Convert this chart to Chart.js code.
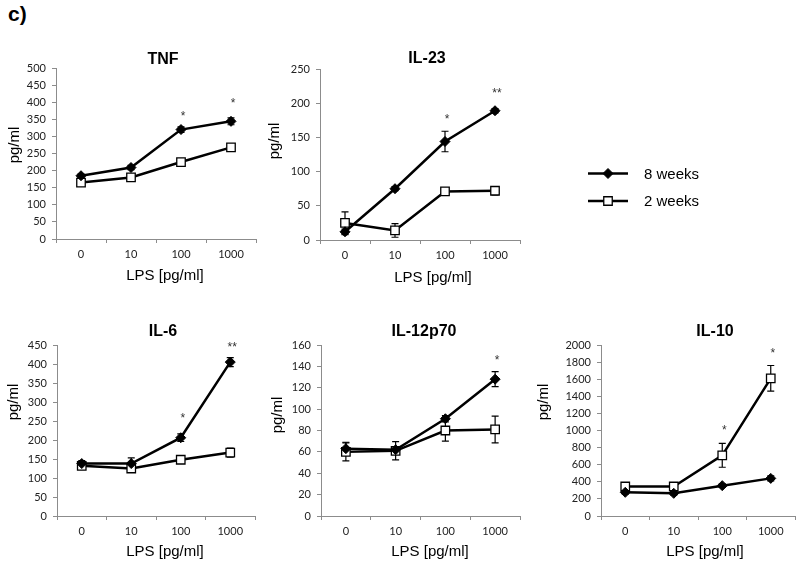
<!DOCTYPE html>
<html><head><meta charset="utf-8">
<script src="https://cdn.jsdelivr.net/npm/chart.js@4.4.1/dist/chart.umd.min.js"></script>
<style>
html,body{margin:0;padding:0;background:#fff;width:800px;height:563px;overflow:hidden;position:relative}
canvas{position:absolute}
#tag{position:absolute;left:8px;top:3px;font:bold 21px "Liberation Sans",Arial,sans-serif;color:#000;line-height:1}
</style></head><body>
<div id="tag">c)</div>
<script>
// ---------- data ----------
const categories = ['0', '10', '100', '1000'];
const seriesNames = ['8 weeks', '2 weeks'];
const axisTitleX = 'LPS [pg/ml]';
const axisTitleY = 'pg/ml';

const tnf8 = [185, 209, 320, 344];
const tnf8Err = [5, 6, 8, 10];
const tnf2 = [165, 180, 225, 268];
const tnf2Err = [4, 4, 5, 5];
const tnfStars = ['', '', '*', '*'];
const tnfStarAt = [null, null, 367, 404];

const il23w8 = [12, 75, 144, 189];
const il23w8Err = [4, 3, 15, 3];
const il23w2 = [25, 14, 71, 72];
const il23w2Err = [16, 10, 3, 6];
const il23Stars = ['', '', '*', '**'];
const il23StarAt = [null, null, 180, 219];

const il6w8 = [138, 138, 206, 405];
const il6w8Err = [8, 15, 10, 12];
const il6w2 = [132, 125, 148, 167];
const il6w2Err = [8, 5, 5, 12];
const il6Stars = ['', '', '*', '**'];
const il6StarAt = [null, null, 264, 452];

const il12w8 = [63, 62, 91, 128];
const il12w8Err = [6, 3, 3, 7];
const il12w2 = [60, 61, 80, 81];
const il12w2Err = [8.5, 8.5, 10, 12.5];
const il12Stars = ['', '', '', '*'];
const il12StarAt = [null, null, null, 148];

const il10w8 = [277, 265, 355, 440];
const il10w8Err = [20, 20, 20, 30];
const il10w2 = [345, 345, 710, 1610];
const il10w2Err = [20, 20, 140, 150];
const il10Stars = ['', '', '*', '*'];
const il10StarAt = [null, null, 1033, 1930];

const yMax = {TNF: 500, 'IL-23': 250, 'IL-6': 450, 'IL-12p70': 160, 'IL-10': 2000};
const yStep = {TNF: 50, 'IL-23': 50, 'IL-6': 50, 'IL-12p70': 20, 'IL-10': 200};

// ---------- layout (absolute page coordinates) ----------
const panels = [
  {name: 'TNF', s8: tnf8, e8: tnf8Err, s2: tnf2, e2: tnf2Err, stars: tnfStars, starAt: tnfStarAt,
   area: {l: 56, r: 256, t: 68, b: 239}, title: [163, 60], yt: [15, 145], xt: [165, 276]},
  {name: 'IL-23', s8: il23w8, e8: il23w8Err, s2: il23w2, e2: il23w2Err, stars: il23Stars, starAt: il23StarAt,
   area: {l: 320, r: 520, t: 69, b: 240}, title: [427, 59], yt: [275, 141], xt: [433, 278]},
  {name: 'IL-6', s8: il6w8, e8: il6w8Err, s2: il6w2, e2: il6w2Err, stars: il6Stars, starAt: il6StarAt,
   area: {l: 57, r: 255, t: 345, b: 516}, title: [163, 332], yt: [14, 402], xt: [165, 552]},
  {name: 'IL-12p70', s8: il12w8, e8: il12w8Err, s2: il12w2, e2: il12w2Err, stars: il12Stars, starAt: il12StarAt,
   area: {l: 321, r: 520, t: 345, b: 516}, title: [424, 332], yt: [278, 415], xt: [430, 552]},
  {name: 'IL-10', s8: il10w8, e8: il10w8Err, s2: il10w2, e2: il10w2Err, stars: il10Stars, starAt: il10StarAt,
   area: {l: 601, r: 795, t: 345, b: 516}, title: [715, 332], yt: [544, 402], xt: [705, 552]}
];

const TICK_FONT = {family: 'Lato, "Liberation Sans", sans-serif', size: 11};
const AXIS_COLOR = '#8c8c8c';
const Y_W = 40, X_H = 30;

const style8 = {pointStyle: 'rectRot', pointRadius: 5, backgroundColor: '#000', borderColor: '#000', pointBorderWidth: 1};
const style2 = {pointStyle: 'rect', pointRadius: 6, backgroundColor: '#fff', borderColor: '#000', pointBorderWidth: 1.3};

const decoPlugin = {
  id: 'panelDeco',
  beforeDatasetsDraw(chart, args, o) {
    const ctx = chart.ctx, ys = chart.scales.y;
    chart.data.datasets.forEach((ds, di) => {
      if (!ds.errors) return;
      const meta = chart.getDatasetMeta(di);
      ctx.save();
      ctx.strokeStyle = '#000';
      ctx.lineWidth = 1.2;
      meta.data.forEach((pt, i) => {
        const v = ds.data[i], e = ds.errors[i];
        if (!e) return;
        const x = pt.x, y1 = ys.getPixelForValue(v + e), y0 = ys.getPixelForValue(v - e);
        ctx.beginPath();
        ctx.moveTo(x, y1); ctx.lineTo(x, y0);
        ctx.moveTo(x - 3.5, y1); ctx.lineTo(x + 3.5, y1);
        ctx.moveTo(x - 3.5, y0); ctx.lineTo(x + 3.5, y0);
        ctx.stroke();
      });
      ctx.restore();
    });
  },
  afterDraw(chart, args, o) {
    const ctx = chart.ctx, xs = chart.scales.x, ys = chart.scales.y;
    ctx.save();
    // significance stars
    ctx.fillStyle = '#333';
    ctx.font = '12px "Liberation Sans", Arial, sans-serif';
    ctx.textAlign = 'center';
    ctx.textBaseline = 'alphabetic';
    o.stars.forEach((s, i) => {
      if (!s) return;
      const m = ctx.measureText(s);
      const px = xs.getPixelForValue(i) + 2;
      const py = ys.getPixelForValue(o.starAt[i]);
      ctx.fillText(s, px, py + (m.actualBoundingBoxAscent - m.actualBoundingBoxDescent) / 2);
    });
    // titles
    ctx.fillStyle = '#000';
    ctx.textBaseline = 'middle';
    ctx.font = 'bold 16px "Liberation Sans", Arial, sans-serif';
    ctx.fillText(o.title, o.titlePos[0] - o.offX, o.titlePos[1] - o.offY);
    ctx.font = '15px "Liberation Sans", Arial, sans-serif';
    ctx.fillText(o.xTitle, o.xtPos[0] - o.offX, o.xtPos[1] - o.offY);
    ctx.translate(o.ytPos[0] - o.offX, o.ytPos[1] - o.offY);
    ctx.rotate(-Math.PI / 2);
    ctx.fillText(o.yTitle, 0, 0);
    ctx.restore();
  }
};

panels.forEach((p, idx) => {
  const a = p.area;
  const L = a.l - 72, T = a.t - 45;
  const W = a.r - L + 8, H = a.b - T + 48;
  const cv = document.createElement('canvas');
  cv.width = W; cv.height = H;
  cv.style.left = L + 'px'; cv.style.top = T + 'px';
  cv.style.width = W + 'px'; cv.style.height = H + 'px';
  document.body.appendChild(cv);
  new Chart(cv, {
    type: 'line',
    data: {
      labels: categories,
      datasets: [
        Object.assign({label: seriesNames[0], data: p.s8, errors: p.e8, borderWidth: 2.5, fill: false, tension: 0}, style8),
        Object.assign({label: seriesNames[1], data: p.s2, errors: p.e2, borderWidth: 2.5, fill: false, tension: 0}, style2)
      ]
    },
    options: {
      responsive: false,
      animation: false,
      devicePixelRatio: 1,
      layout: {padding: {left: a.l - L - Y_W, right: L + W - a.r, top: a.t - T, bottom: H - (a.b - T) - X_H}},
      plugins: {
        legend: {display: false},
        tooltip: {enabled: false},
        panelDeco: {
          stars: p.stars, starAt: p.starAt,
          title: p.name, titlePos: p.title,
          xTitle: axisTitleX, xtPos: p.xt,
          yTitle: axisTitleY, ytPos: p.yt,
          offX: L, offY: T
        }
      },
      scales: {
        x: {
          type: 'category',
          offset: true,
          grid: {offset: true, drawOnChartArea: false, drawTicks: true, tickLength: 4, color: AXIS_COLOR},
          border: {display: true, color: AXIS_COLOR, width: 1},
          ticks: {font: TICK_FONT, color: '#222', padding: 5, maxRotation: 0},
          afterFit(s) { s.height = X_H; }
        },
        y: {
          min: 0, max: yMax[p.name],
          grid: {drawOnChartArea: false, drawTicks: true, tickLength: 4, color: AXIS_COLOR},
          border: {display: true, color: AXIS_COLOR, width: 1},
          ticks: {stepSize: yStep[p.name], font: TICK_FONT, color: '#222', padding: 6,
                  callback: (v) => String(v)},
          afterFit(s) { s.width = Y_W; }
        }
      }
    },
    plugins: [decoPlugin]
  });
});

// ---------- legend ----------
const legendPlugin = {
  id: 'sideLegend',
  afterDraw(chart, args, o) {
    const ctx = chart.ctx;
    chart.data.datasets.forEach((ds, i) => {
      const y = o.y0 + i * o.gap - o.offY;
      const x0 = o.x0 - o.offX, x1 = o.x1 - o.offX;
      ctx.save();
      ctx.strokeStyle = ds.borderColor;
      ctx.lineWidth = ds.borderWidth;
      ctx.beginPath(); ctx.moveTo(x0, y); ctx.lineTo(x1, y); ctx.stroke();
      ctx.fillStyle = ds.backgroundColor;
      ctx.lineWidth = ds.pointBorderWidth;
      const ps = {pointStyle: ds.pointStyle, radius: ds.pointRadius, borderWidth: ds.pointBorderWidth, rotation: 0};
      if (Chart.helpers && Chart.helpers.drawPoint) {
        Chart.helpers.drawPoint(ctx, ps, (x0 + x1) / 2, y);
      }
      ctx.fillStyle = '#000';
      ctx.font = '15px "Liberation Sans", Arial, sans-serif';
      ctx.textAlign = 'left';
      ctx.textBaseline = 'middle';
      ctx.fillText(ds.label, o.tx - o.offX, y + 1);
      ctx.restore();
    });
  }
};
(function () {
  const L = 575, T = 155, W = 160, H = 65;
  const cv = document.createElement('canvas');
  cv.width = W; cv.height = H;
  cv.style.left = L + 'px'; cv.style.top = T + 'px';
  cv.style.width = W + 'px'; cv.style.height = H + 'px';
  document.body.appendChild(cv);
  new Chart(cv, {
    type: 'line',
    data: {
      labels: [],
      datasets: [
        Object.assign({label: seriesNames[0], data: [], borderWidth: 2.5}, style8),
        Object.assign({label: seriesNames[1], data: [], borderWidth: 2.5}, style2)
      ]
    },
    options: {
      responsive: false, animation: false, devicePixelRatio: 1,
      plugins: {
        legend: {display: false}, tooltip: {enabled: false},
        sideLegend: {x0: 588, x1: 628, tx: 644, y0: 173.5, gap: 27.5, offX: L, offY: T}
      },
      scales: {x: {display: false}, y: {display: false}}
    },
    plugins: [legendPlugin]
  });
})();
</script>
</body></html>
